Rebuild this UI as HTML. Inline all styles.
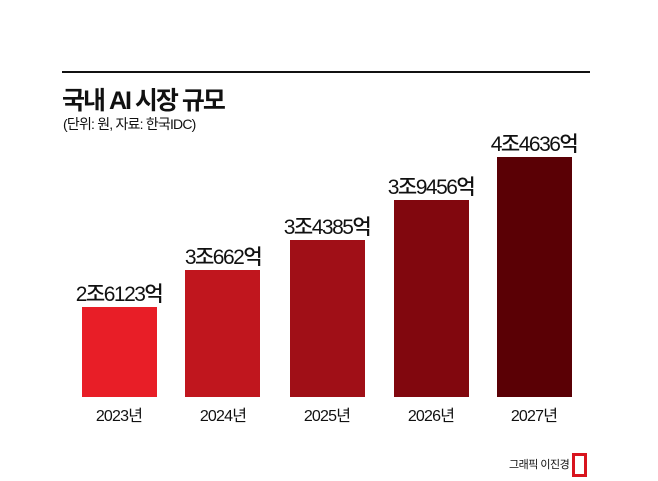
<!DOCTYPE html>
<html><head><meta charset="utf-8"><style>
body{margin:0;width:658px;height:481px;background:#fff;position:relative;overflow:hidden;font-family:"Liberation Sans","Noto Sans CJK KR",sans-serif;color:#111}
.a{position:absolute}
.bar{position:absolute;bottom:84px;width:75px}
.v{position:absolute;width:120px;text-align:center;font-size:21px;letter-spacing:-1.5px;font-weight:500}
.y{position:absolute;top:402px;width:120px;text-align:center;font-size:16px;letter-spacing:-0.8px}
</style></head><body>
<div class="a" style="left:62px;top:71px;width:528px;height:2px;background:#111"></div>
<div class="a" style="left:62px;top:81px;font-size:25px;font-weight:bold;letter-spacing:-2px">국내 AI 시장 규모</div>
<div class="a" style="left:63px;top:114px;font-size:14px;letter-spacing:-0.8px">(단위: 원, 자료: 한국IDC)</div>

<div class="bar" style="left:82px;top:307px;background:#e81e27"></div>
<div class="bar" style="left:185px;top:270px;background:#c0161e"></div>
<div class="bar" style="left:290px;top:240px;background:#a00f17"></div>
<div class="bar" style="left:394px;top:200px;background:#81070e"></div>
<div class="bar" style="left:497px;top:157px;background:#5a0005"></div>

<div class="v" style="left:59px;top:278px">2조6123억</div>
<div class="v" style="left:163px;top:241px">3조662억</div>
<div class="v" style="left:267px;top:211px">3조4385억</div>
<div class="v" style="left:371px;top:171px">3조9456억</div>
<div class="v" style="left:474px;top:128px">4조4636억</div>

<div class="y" style="left:59px">2023년</div>
<div class="y" style="left:163px">2024년</div>
<div class="y" style="left:267px">2025년</div>
<div class="y" style="left:371px">2026년</div>
<div class="y" style="left:474px">2027년</div>

<div class="a" style="left:509px;top:456px;font-size:11px;letter-spacing:-0.5px">그래픽 이진경</div>
<div class="a" style="left:572px;top:453px;width:9px;height:18px;border:3px solid #d8141e"></div>
</body></html>
